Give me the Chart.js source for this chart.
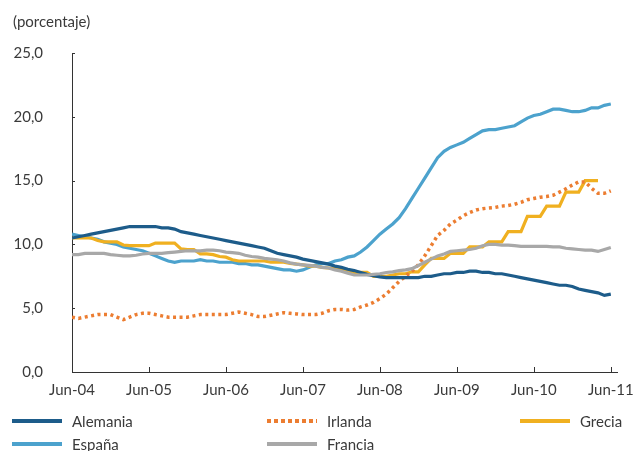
<!DOCTYPE html>
<html>
<head>
<meta charset="utf-8">
<script src="https://cdn.jsdelivr.net/npm/chart.js@4"></script>
<style>
    body { margin: 0; background: #fff; font-family: Lato, sans-serif; }
    #wrap { position: relative; width: 643px; height: 451px; }
    #unit { position: absolute; left: 13px; top: 12px; font-size: 15px; line-height: 18px; color: #3a3a3a; }
    #chart { position: absolute; left: 0; top: 0; }
    #legend { position: absolute; left: 12px; top: 409px; display: grid; grid-template-columns: 255px 253px 120px; }
    .item { display: flex; align-items: center; height: 23px; font-size: 15px; color: #3a3a3a; }
    .sw { width: 50px; height: 4px; margin-right: 10px; }
</style>
</head>
<body>
<div id="wrap">
    <canvas id="chart" width="643" height="451"></canvas>
    <div id="unit">(porcentaje)</div>
    <div id="legend"></div>
</div>
<script>
// etiquetas del eje x (una cada 12 meses, jun-04 .. jun-11)
const tickLabels = ['Jun-04', 'Jun-05', 'Jun-06', 'Jun-07', 'Jun-08', 'Jun-09', 'Jun-10', 'Jun-11'];

// tasas de paro mensuales, jun-04 .. jun-11
const alemania = [
    10.5, 10.6, 10.7, 10.8, 10.9, 11.0, 11.1, 11.2, 11.3, 11.4, 11.4, 11.4,
    11.4, 11.4, 11.3, 11.3, 11.2, 11.0, 10.9, 10.8, 10.7, 10.6, 10.5, 10.4,
    10.3, 10.2, 10.1, 10.0, 9.9, 9.8, 9.7, 9.5, 9.3, 9.2, 9.1, 9.0,
    8.85, 8.75, 8.65, 8.55, 8.45, 8.3, 8.2, 8.05, 7.95, 7.8, 7.65, 7.55,
    7.45, 7.4, 7.4, 7.4, 7.4, 7.4, 7.4, 7.5, 7.5, 7.6, 7.7, 7.7,
    7.8, 7.8, 7.9, 7.9, 7.8, 7.8, 7.7, 7.7, 7.6, 7.5, 7.4, 7.3,
    7.2, 7.1, 7.0, 6.9, 6.8, 6.8, 6.7, 6.5, 6.4, 6.3, 6.2, 6.0,
    6.1
];
const irlanda = [
    4.3, 4.2, 4.3, 4.4, 4.5, 4.5, 4.5, 4.3, 4.1, 4.3, 4.5, 4.6,
    4.6, 4.5, 4.4, 4.3, 4.3, 4.3, 4.3, 4.4, 4.5, 4.5, 4.5, 4.5,
    4.5, 4.6, 4.7, 4.6, 4.5, 4.35, 4.35, 4.45, 4.55, 4.65, 4.6, 4.55,
    4.5, 4.5, 4.5, 4.6, 4.8, 4.9, 4.9, 4.85, 4.9, 5.1, 5.25, 5.45,
    5.75, 6.1, 6.6, 7.1, 7.5, 7.9, 8.4, 9.1, 9.9, 10.7, 11.1, 11.6,
    11.9, 12.25, 12.5, 12.7, 12.8, 12.85, 12.9, 13.0, 13.05, 13.15, 13.3, 13.5,
    13.6, 13.7, 13.75, 13.85, 14.1, 14.35, 14.65, 14.9, 14.9, 14.4, 14.0, 14.0,
    14.2
];
const grecia = [
    10.5, 10.5, 10.5, 10.5, 10.3, 10.2, 10.2, 10.2, 9.95, 9.9, 9.9, 9.9,
    9.9, 10.1, 10.1, 10.1, 10.1, 9.65, 9.6, 9.6, 9.25, 9.25, 9.2, 9.05,
    9.0, 8.8, 8.7, 8.7, 8.7, 8.7, 8.7, 8.6, 8.6, 8.6, 8.5, 8.45,
    8.4, 8.3, 8.3, 8.2, 8.15, 8.1, 8.0, 7.95, 7.8, 7.8, 7.8, 7.5,
    7.5, 7.5, 7.6, 7.7, 7.7, 7.85, 7.85, 8.4, 8.9, 8.9, 8.9, 9.3,
    9.3, 9.3, 9.8, 9.8, 9.8, 10.2, 10.2, 10.2, 11.0, 11.0, 11.0, 12.2,
    12.2, 12.2, 13.0, 13.0, 13.0, 14.1, 14.1, 14.1, 15.0, 15.0, 15.0, null,
    null
];
const espana = [
    10.8, 10.7, 10.6, 10.5, 10.4, 10.2, 10.1, 10.0, 9.8, 9.7, 9.6, 9.5,
    9.3, 9.1, 8.9, 8.7, 8.6, 8.7, 8.7, 8.7, 8.8, 8.7, 8.7, 8.6,
    8.6, 8.6, 8.5, 8.5, 8.4, 8.4, 8.3, 8.2, 8.1, 8.0, 8.0, 7.9,
    8.0, 8.2, 8.4, 8.5, 8.5, 8.7, 8.8, 9.0, 9.1, 9.4, 9.8, 10.3,
    10.8, 11.2, 11.6, 12.1, 12.8, 13.6, 14.4, 15.2, 16.0, 16.8, 17.3, 17.6,
    17.8, 18.0, 18.3, 18.6, 18.9, 19.0, 19.0, 19.1, 19.2, 19.3, 19.6, 19.9,
    20.1, 20.2, 20.4, 20.6, 20.6, 20.5, 20.4, 20.4, 20.5, 20.7, 20.7, 20.9,
    21.0
];
const francia = [
    9.2, 9.2, 9.3, 9.3, 9.3, 9.3, 9.2, 9.15, 9.1, 9.1, 9.15, 9.25,
    9.3, 9.3, 9.3, 9.35, 9.4, 9.45, 9.5, 9.5, 9.5, 9.55, 9.55, 9.5,
    9.4, 9.35, 9.3, 9.15, 9.05, 9.0, 8.9, 8.85, 8.8, 8.7, 8.55, 8.45,
    8.4, 8.35, 8.3, 8.2, 8.15, 8.0, 7.9, 7.75, 7.6, 7.6, 7.6, 7.65,
    7.7, 7.8, 7.85, 7.95, 8.0, 8.1, 8.35, 8.6, 8.85, 9.1, 9.25, 9.45,
    9.5, 9.55, 9.6, 9.7, 9.9, 10.0, 10.0, 9.95, 9.95, 9.9, 9.85, 9.85,
    9.85, 9.85, 9.85, 9.8, 9.8, 9.7, 9.65, 9.6, 9.55, 9.55, 9.45, 9.6,
    9.75
];

const font = { family: 'Lato, sans-serif', size: 15 };
const txt = '#3a3a3a';

function serie(values) {
    return values.map((v, i) => ({ x: i, y: v }));
}

// marcas cortas hacia dentro en ambos ejes
const innerTicks = {
    id: 'innerTicks',
    beforeDatasetsDraw(chart) {
        const { ctx, chartArea, scales } = chart;
        ctx.save();
        ctx.strokeStyle = '#333';
        ctx.lineWidth = 1;
        ctx.beginPath();
        scales.y.ticks.forEach(t => {
            const y = Math.round(scales.y.getPixelForValue(t.value)) + 0.5;
            ctx.moveTo(chartArea.left, y);
            ctx.lineTo(chartArea.left + 3, y);
        });
        scales.x.ticks.forEach(t => {
            const x = Math.round(scales.x.getPixelForValue(t.value)) + 0.5;
            ctx.moveTo(x, chartArea.bottom);
            ctx.lineTo(x, chartArea.bottom - 5);
        });
        ctx.stroke();
        ctx.restore();
    }
};

const chart = new Chart(document.getElementById('chart'), {
    type: 'line',
    data: {
        datasets: [
            { label: 'Alemania', data: serie(alemania), borderColor: '#1d5c8a', borderWidth: 3.2 },
            { label: 'Irlanda', data: serie(irlanda), borderColor: '#ec7d31', borderWidth: 3.5, borderDash: [3, 3.5] },
            { label: 'Grecia', data: serie(grecia), borderColor: '#f0b020', borderWidth: 3.2 },
            { label: 'España', data: serie(espana), borderColor: '#4ca2cd', borderWidth: 3.2 },
            { label: 'Francia', data: serie(francia), borderColor: '#a8a8a8', borderWidth: 3.2, order: -1 }
        ]
    },
    options: {
        responsive: false,
        animation: false,
        layout: { padding: { top: 53, right: 24, left: 0, bottom: 39 } },
        elements: { point: { radius: 0 }, line: { tension: 0, borderCapStyle: 'butt' } },
        plugins: { legend: { display: false }, tooltip: { enabled: false } },
        scales: {
            x: {
                type: 'linear',
                min: 0,
                max: 85,
                afterBuildTicks: s => { s.ticks = tickLabels.map((t, i) => ({ value: i * 12 })); },
                afterFit: s => { s.height = 40; },
                grid: { display: false, drawTicks: false },
                border: { display: true, color: '#333', width: 1 },
                ticks: {
                    callback: v => tickLabels[v / 12],
                    autoSkip: false,
                    maxRotation: 0,
                    padding: 9,
                    color: txt,
                    font
                }
            },
            y: {
                min: 0,
                max: 25,
                afterFit: s => { s.width = 72; },
                grid: { display: false, drawTicks: false },
                border: { display: true, color: '#333', width: 1 },
                ticks: {
                    stepSize: 5,
                    callback: v => v.toFixed(1).replace('.', ','),
                    padding: 29,
                    color: txt,
                    font
                }
            }
        }
    },
    plugins: [innerTicks]
});

// leyenda en tres columnas debajo del gráfico
const legend = document.getElementById('legend');
chart.data.datasets.forEach(ds => {
    const item = document.createElement('div');
    item.className = 'item';
    const sw = document.createElement('span');
    sw.className = 'sw';
    if (ds.borderDash) {
        sw.style.background = `repeating-linear-gradient(90deg, ${ds.borderColor} 0 4px, transparent 4px 7px)`;
    } else {
        sw.style.background = ds.borderColor;
    }
    item.appendChild(sw);
    item.appendChild(document.createTextNode(ds.label));
    legend.appendChild(item);
});
</script>
</body>
</html>
